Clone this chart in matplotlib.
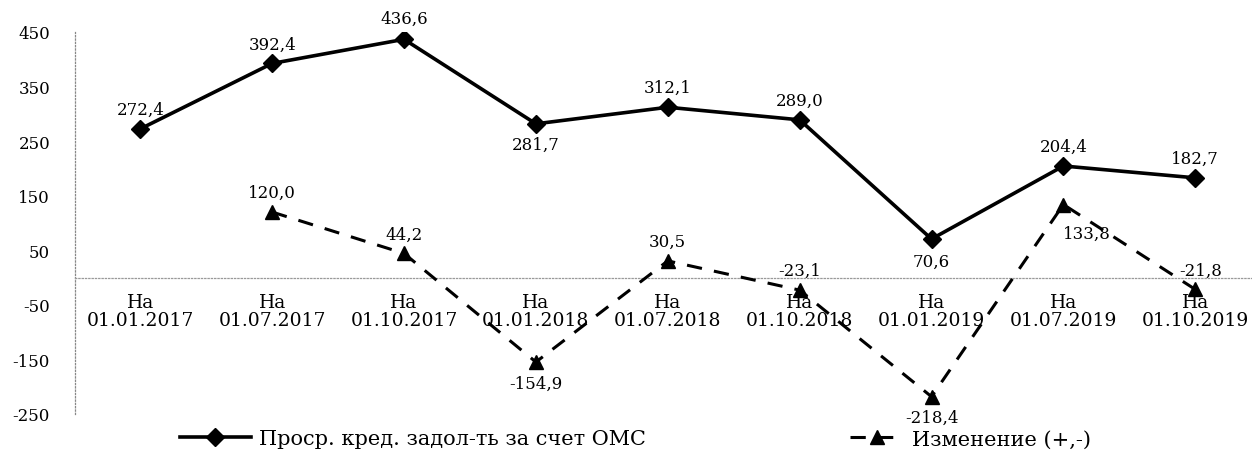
import numpy as np
import matplotlib.pyplot as plt

dates = ["01.01.2017", "01.07.2017", "01.10.2017", "01.01.2018", "01.07.2018",
         "01.10.2018", "01.01.2019", "01.07.2019", "01.10.2019"]
debt = [272.4, 392.4, 436.6, 281.7, 312.1, 289.0, 70.6, 204.4, 182.7]
change = [np.nan, 120.0, 44.2, -154.9, 30.5, -23.1, -218.4, 133.8, -21.8]

debt_label = "Проср. кред. задол-ть за счет ОМС"
change_label = "Изменение (+,-)"

plt.rcParams["font.family"] = ["DejaVu Serif"]
plt.rcParams["axes.unicode_minus"] = False

fig = plt.figure(figsize=(12.52, 4.52), dpi=100)
ax = fig.add_axes([0.06, 0.082, 0.94, 0.845])

# x axis sits on zero (do this before tick setup, it resets ticks)
ax.spines["bottom"].set_position(("data", 0))
ax.spines["bottom"].set_linestyle(":")
ax.spines["bottom"].set_color("#999999")
ax.spines["bottom"].set_linewidth(0.9)
ax.spines["left"].set_linestyle(":")
ax.spines["left"].set_color("#888888")
ax.spines["left"].set_linewidth(0.9)
ax.spines["top"].set_visible(False)
ax.spines["right"].set_visible(False)

x = np.arange(len(dates))

l1, = ax.plot(x, debt, color="black", lw=2.6, marker="D", ms=9,
              label=debt_label, zorder=3)
l2, = ax.plot(x, change, color="black", lw=2.2, ls=(0, (5, 4)), marker="^",
              ms=10, label=change_label, zorder=3)

# data labels: offsets in points
debt_off = [(0, 14), (0, 14), (0, 15), (0, -15), (0, 14), (0, 14),
            (0, -16), (0, 14), (0, 14)]
change_off = [None, (0, 14), (0, 14), (0, -15), (0, 14), (0, 14),
              (0, -15), (17, -21), (4, 14)]

for xi, v, off in zip(x, debt, debt_off):
    ax.annotate(f"{v:.1f}".replace(".", ","), (xi, v), xytext=off,
                textcoords="offset points", ha="center", va="center",
                fontsize=12)
for xi, v, off in zip(x, change, change_off):
    if off is None:
        continue
    ax.annotate(f"{v:.1f}".replace(".", ","), (xi, v), xytext=off,
                textcoords="offset points", ha="center", va="center",
                fontsize=12)

ax.set_xlim(-0.494, 8.43)
ax.set_ylim(-250, 450)
ax.set_yticks(np.arange(-250, 451, 100))
ax.set_xticks(x)
ax.set_xticklabels(["На\n" + d for d in dates], fontsize=13.5, linespacing=1.0)

ax.tick_params(axis="x", length=0, pad=11)
ax.tick_params(axis="y", length=0, pad=18, labelsize=12)

fig.legend(handles=[l1], loc="center left", bbox_to_anchor=(180 / 1252, 1 - 440 / 452),
           frameon=False, fontsize=15, handlelength=3.4, handletextpad=0.4,
           borderpad=0, borderaxespad=0)
fig.legend(handles=[l2], loc="center left", bbox_to_anchor=(850 / 1252, 1 - 440 / 452),
           frameon=False, fontsize=15, handlelength=2.6, handletextpad=0.4,
           borderpad=0, borderaxespad=0)

fig.savefig("out.png", dpi=100)
